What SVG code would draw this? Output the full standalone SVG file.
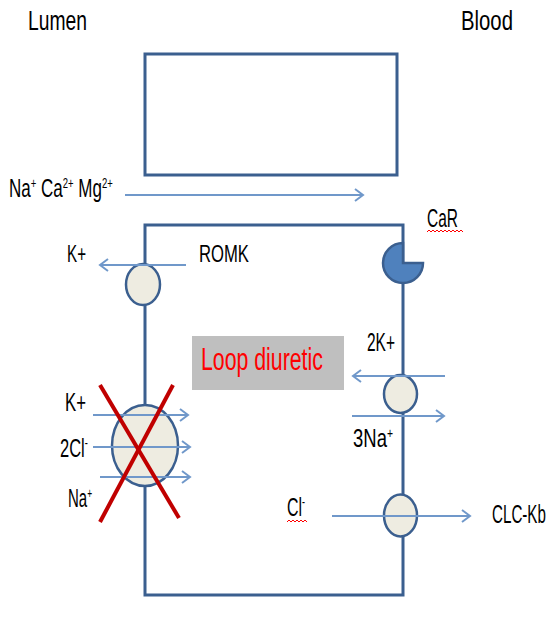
<svg xmlns="http://www.w3.org/2000/svg" width="557" height="630" viewBox="0 0 557 630">
<defs>
<style>
.lbl{font-family:"Liberation Sans",Arial,sans-serif;fill:#000}
.box{fill:none;stroke:#3B5F8F;stroke-width:3}
.pump{fill:#EEECE1;stroke:#3B5F8F;stroke-width:2.5}
.arr{stroke:#7098CA;stroke-width:2;fill:none;marker-end:url(#ah)}
.cross{stroke:#C00000;stroke-width:4;stroke-linecap:butt}
.wavy{fill:none;stroke:#FF0000;stroke-width:1}
</style>
<marker id="ah" markerUnits="userSpaceOnUse" markerWidth="12" markerHeight="14" refX="9" refY="7" orient="auto">
<path d="M1,1 L9,7 L1,13" fill="none" stroke="#7098CA" stroke-width="2"/>
</marker>
</defs>
<rect width="557" height="630" fill="#fff"/>

<g id="headers">
<text class="lbl" font-size="28" transform="translate(28,30) scale(0.689,1)">Lumen</text>
<text class="lbl" font-size="28" transform="translate(461,30) scale(0.726,1)">Blood</text>
</g>

<g id="paracellular-box">
<rect class="box" x="145" y="54" width="252" height="121"/>
</g>

<g id="cell">
<path class="box" d="M145,225 H403 V595 H145 Z"/>
</g>

<g id="romk">
<ellipse class="pump" cx="143" cy="284.5" rx="17" ry="20.5"/>
<text class="lbl" font-size="24" transform="translate(67,262) scale(0.633,1)">K+</text>
<text class="lbl" font-size="24" transform="translate(199,262) scale(0.694,1)">ROMK</text>
</g>

<g id="car">
<path d="M403,263 V243 A20,20 0 1 0 423,263 Z" fill="#4F81BD" stroke="#3B5F8F" stroke-width="2.5"/>
<text class="lbl" font-size="26" transform="translate(427,227) scale(0.596,1)">CaR</text>
<path class="wavy" d="M427,232 l2,-2 l2,2 l2,-2 l2,2 l2,-2 l2,2 l2,-2 l2,2 l2,-2 l2,2 l2,-2 l2,2 l2,-2 l2,2 l2,-2 l2,2 l2,-2 l2,2"/>
</g>

<g id="loop-diuretic">
<rect x="192" y="336" width="152" height="54" fill="#BFBFBF"/>
<text font-size="31" fill="#FF0000" font-family="Liberation Sans, Arial, sans-serif" transform="translate(201,370) scale(0.687,1)">Loop diuretic</text>
</g>

<g id="nakatpase">
<ellipse class="pump" cx="400.5" cy="394" rx="16.5" ry="19"/>
<text class="lbl" font-size="25" transform="translate(367,351) scale(0.62,1)">2K+</text>
<text class="lbl" font-size="25" transform="translate(353,447) scale(0.74,1)">3Na<tspan font-size="14" dy="-9">+</tspan></text>
</g>

<g id="clckb">
<ellipse class="pump" cx="400.5" cy="515.5" rx="16.5" ry="21"/>
<text class="lbl" font-size="25" transform="translate(287,516) scale(0.636,1)">Cl<tspan font-size="14" dy="-9">-</tspan></text>
<path class="wavy" d="M287,522 l2,-2 l2,2 l2,-2 l2,2 l2,-2 l2,2 l2,-2 l2,2 l2,-2 l2,2"/>
<text class="lbl" font-size="25" transform="translate(492,523) scale(0.607,1)">CLC-Kb</text>
</g>

<g id="nkcc">
<ellipse class="pump" cx="145" cy="445.5" rx="33" ry="40.5"/>
<text class="lbl" font-size="25" transform="translate(65,411) scale(0.67,1)">K+</text>
<text class="lbl" font-size="25" transform="translate(60,457) scale(0.66,1)">2Cl<tspan font-size="14" dy="-9">-</tspan></text>
<text class="lbl" font-size="25" transform="translate(68,507) scale(0.6,1)">Na<tspan font-size="14" dy="-9">+</tspan></text>
</g>

<g id="paracellular-ions">
<text class="lbl" font-size="25" transform="translate(9,197) scale(0.68,1)">Na<tspan font-size="14" dy="-9">+</tspan><tspan dy="9"> Ca</tspan><tspan font-size="14" dy="-9">2+</tspan><tspan dy="9"> Mg</tspan><tspan font-size="14" dy="-9">2+</tspan></text>
</g>

<g id="connectors">
<line class="arr" x1="125" y1="195" x2="363" y2="195"/>
<line class="arr" x1="186" y1="265" x2="100" y2="265"/>
<line class="arr" x1="93" y1="415" x2="188" y2="415"/>
<line class="arr" x1="93" y1="447" x2="190" y2="447"/>
<line class="arr" x1="100" y1="477" x2="190" y2="477"/>
<line class="arr" x1="445" y1="376" x2="353" y2="376"/>
<line class="arr" x1="352" y1="416" x2="444" y2="416"/>
<line class="arr" x1="332" y1="516" x2="470" y2="516"/>
</g>

<g id="inhibition-cross">
<line class="cross" x1="100" y1="385" x2="179" y2="518"/>
<line class="cross" x1="173" y1="385" x2="100" y2="522"/>
</g>
</svg>
